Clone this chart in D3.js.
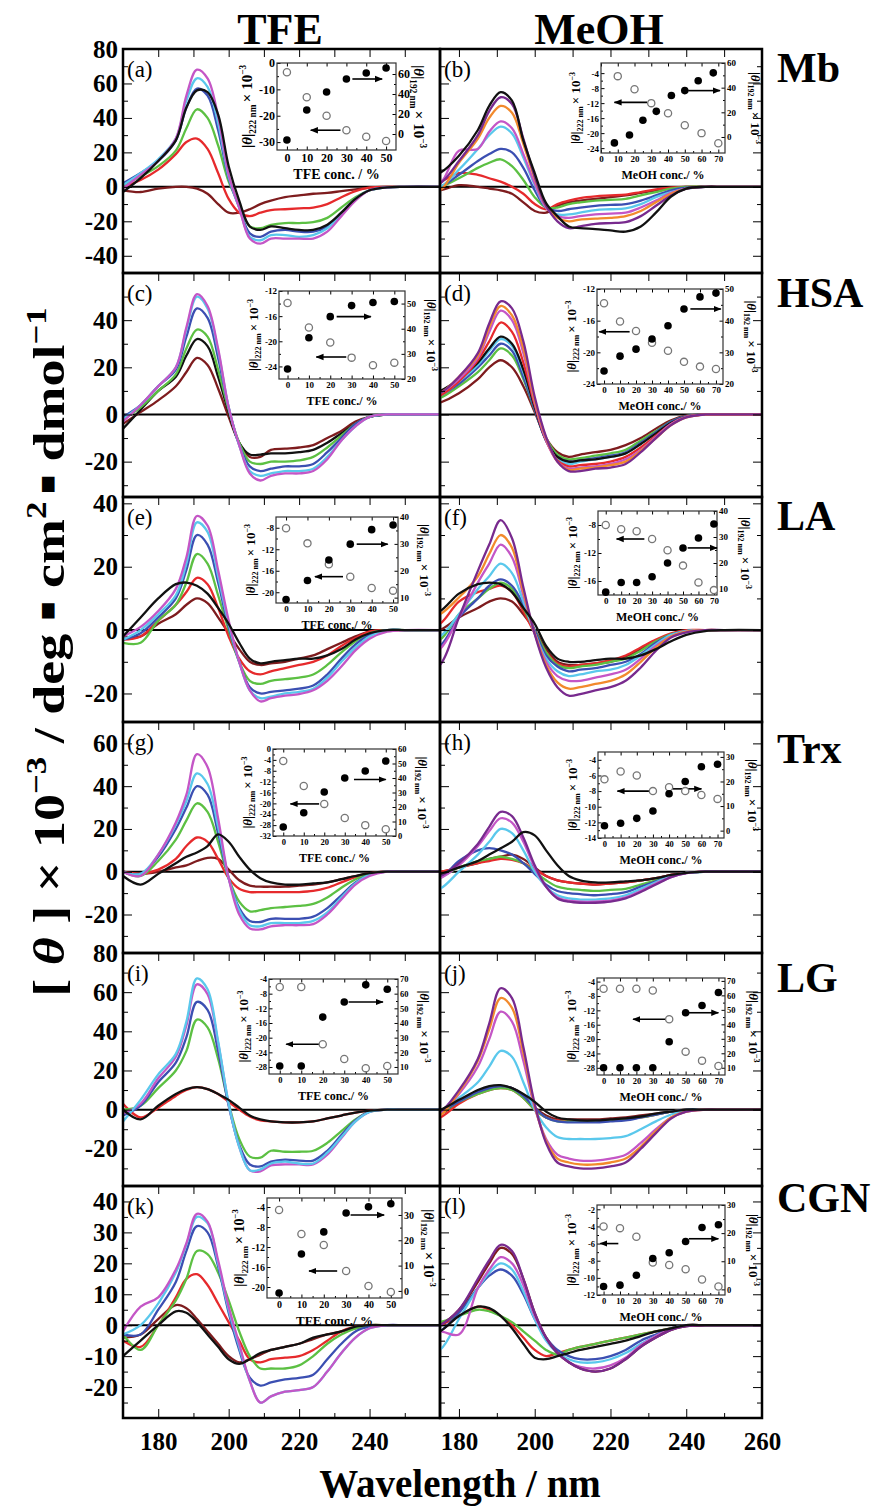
<!DOCTYPE html>
<html>
<head>
<meta charset="utf-8">
<script src="https://cdn.jsdelivr.net/npm/d3@7"></script>
<style>
  body { margin: 0; background: #fff; }
  svg { display: block; }
  text { font-family: "Liberation Serif", "Times New Roman", serif; }
</style>
</head>
<body>
<svg id="chart" width="878" height="1509"></svg>
<script>
// wavelength grid (nm) shared by every spectrum below
const WL = [170,175,180,185,188,191,194,197,200,203,206,209,212,216,220,224,228,232,236,240,245,250,260];

// (a) Mb / TFE
const curvesA = [
  ['maroon',  [-2,-3,-1,0,0,-1,-4,-10,-15,-15,-13,-10,-8,-6,-5,-4,-3.5,-2.5,-1.5,-0.5,0,0,0]],
  ['red',     [0,4,10,19,26,28,22,8,-7,-15,-17,-15,-13.5,-13,-12.5,-12,-10,-6,-2.5,-0.5,0,0,0]],
  ['green',   [1,6,12,21,34,45,40,24,3,-10,-23,-24,-22,-21,-21,-20.5,-18,-12,-6,-2,-0.3,0,0]],
  ['blue',    [2,8,15,27,46,57,53,33,5,-12,-27,-29,-26,-25,-26,-26,-23,-15,-7,-2,-0.3,0,0]],
  ['cyan',    [1,8,16,28,50,63,58,37,6,-12,-29,-31,-28,-28,-29,-28,-24,-16,-7,-2,-0.3,0,0]],
  ['magenta', [-1,7,15,28,53,68,63,41,7,-12,-30,-33,-30,-30,-30,-30,-26,-17,-8,-2,-0.3,0,0]],
  ['black',   [-3,5,15,27,46,56,55,42,12,-8,-23,-25,-23,-24,-25,-25,-22,-15,-7,-2,-0.3,0,0]]
];
// (b) Mb / MeOH
const curvesB = [
  ['maroon',  [-2,-2,1,0,-1,-2,-4,-9,-14,-15,-11,-9,-8,-7,-6,-5,-3.5,-2,-0.5,0,0,0,0]],
  ['red',     [2,3,8,7,5,3,0,-4,-10,-13,-10,-8,-6.5,-5.5,-5,-4.5,-3,-1.5,-0.5,0,0,0,0]],
  ['green',   [0,0,5,11,14,16,12,4,-6,-12,-12,-10,-9,-8,-7.5,-7,-5,-3,-1,0,0,0,0]],
  ['blue',    [0,0,7,15,19,22,20,11,-2,-12,-14,-13,-12,-11,-10.5,-10,-8,-5,-2,-0.5,0,0,0]],
  ['cyan',    [0,0,10,22,30,35,31,17,1,-12,-16,-16,-15,-13.5,-13,-12.5,-10,-6,-3,-1,0,0,0]],
  ['magenta', [0,2,21,22,32,38,34,19,2,-12,-17,-18,-17,-16,-15.5,-15,-12,-8,-3.5,-1,0,0,0]],
  ['orange',  [-3,-2,14,28,40,47,43,25,5,-11,-18,-20,-19,-18.5,-18,-17,-14,-9,-4,-1,0,0,0]],
  ['purple',  [0,2,15,30,44,52,48,28,6,-11,-20,-24,-23,-21.5,-21,-20.5,-17,-11,-5,-1,0,0,0]],
  ['black',   [5,8,18,33,47,55,50,27,8,-9.5,-17,-23,-24,-24.5,-25.3,-26,-23,-15,-5.6,-1,0,0,0]]
];
// (c) HSA / TFE
const curvesC = [
  ['maroon',  [-4,1,6,12,18,24,21,11,-1,-12,-18,-18,-15,-14.5,-14,-13,-10,-7,-3,-1,0,0,0]],
  ['black',   [-6,2,10,16,25,32,29,16,1,-12,-17,-17,-16.5,-16.5,-16,-15,-12,-8,-4,-1,0,0,0]],
  ['green',   [-2,3,10,17,28,36,33,19,2,-12,-20,-21,-20,-20,-19.5,-18,-14,-9,-4,-1,0,0,0]],
  ['blue',    [-1,4,12,19,33,45,41,24,3,-13,-22,-24,-23,-22,-22,-21,-16,-10,-4,-1,0,0,0]],
  ['cyan',    [-2,4,12,20,36,50,45,27,3,-13,-24,-26,-25,-24,-24,-23,-18,-11,-5,-1,0,0,0]],
  ['magenta', [-3,4,12,20,37,51,46,28,3,-13,-25,-28,-26,-25,-25,-24,-19,-11,-5,-1,0,0,0]]
];
// (d) HSA / MeOH
const curvesD = [
  ['maroon',  [3,5,9,15,20,23,20,12,1,-10,-16,-18,-17,-16,-15,-13,-10,-6,-2.5,-0.5,0,0,0]],
  ['green',   [5,7,12,18,23,28,25,15,2,-10,-17,-19,-18.5,-17.5,-16.5,-15,-11,-7,-3,-0.7,0,0,0]],
  ['blue',    [5,8,13,20,25,30,27,16,2,-11,-18,-20,-19.5,-18.5,-17.5,-16,-12,-7.5,-3,-0.7,0,0,0]],
  ['cyan',    [6,8,14,21,27,32,29,18,3,-11,-18.5,-21,-20,-19,-18,-16.5,-12.5,-8,-3.5,-1,0,0,0]],
  ['black',   [8,10,15,22,28,33,30,19,3,-11,-18,-20,-19.5,-19,-18,-16.5,-12.5,-8,-3.5,-1,0,0,0]],
  ['red',     [6,8,14,23,31,39,35,22,4,-11,-19.5,-22,-21.5,-21,-20,-18,-14,-9,-4,-1,0,0,0]],
  ['magenta', [6,9,15,24,35,44,40,26,5,-11,-20,-23,-22.5,-22,-21,-19,-15,-9.5,-4,-1,0,0,0]],
  ['orange',  [7,9,16,25,37,46,42,28,6,-10,-20,-23.5,-23,-22.5,-21.5,-20,-15.5,-10,-4.5,-1.2,0,0,0]],
  ['purple',  [8,9,16,26,38.6,48,45,31,7.5,-9.5,-20,-24,-24,-23,-22.5,-21,-16,-10,-4.5,-1.2,0,0,0]]
];
// (e) LA / TFE
const curvesE = [
  ['maroon',  [-2,-2,2,5,8,10,8.5,4,-1,-6,-10,-11,-10.5,-10,-9,-8,-6,-4,-2,-0.5,0,0,0]],
  ['red',     [-3,-2,3,8,12,16.5,14.5,7,-2,-9,-13,-14,-13,-12,-11,-10,-8,-5,-2.5,-0.5,0,0,0]],
  ['green',   [-4,-4,3,8,15,24,21,11,0,-10,-16,-17,-16,-15.5,-15,-14,-11,-7,-3.5,-1,0,0,0]],
  ['blue',    [-3,-1,4,10,19,30,27,15,1,-10,-18,-20,-19.5,-19,-18.5,-17.5,-14,-9,-4.5,-1.5,0,0,0]],
  ['cyan',    [-3,0,5,11,21,34,31,17,2,-10,-19,-21.5,-21,-20,-19.5,-18.5,-15,-10,-5.5,-2,0,0,0]],
  ['magenta', [-2,1,6,13,23,36,33,19,3,-10,-19,-22.5,-21.5,-20.7,-20.2,-19,-16,-11.5,-6.4,-2.7,-0.5,0,0]],
  ['black',   [-2,4,10,14.5,15,14,11.5,7,2,-4,-9,-10.5,-10,-9.5,-9,-9,-8,-6,-3,-1,0,0,0]]
];
// (f) LA / MeOH
const curvesF = [
  ['maroon',  [-1,0,4,7,9,10,9,5,0,-6,-10,-11,-11,-10.5,-10,-8.5,-6,-3.5,-1.3,-0.3,0,0,0]],
  ['red',     [0,2,9,12,13,14,12,6,-1,-7,-10.5,-11.5,-11,-10.5,-9.5,-8,-5.5,-3,-1,0,0,0,0]],
  ['green',   [-4,-3,5,10,13,15,13,7,0,-7,-11,-12,-11.5,-11,-10,-9,-6.5,-3.5,-1.3,-0.3,0,0,0]],
  ['blue',    [-7,-5,4,10,14,16,14,8,0,-8,-11.5,-13,-12.5,-12,-11,-10,-7.5,-4,-1.5,-0.3,0,0,0]],
  ['cyan',    [-4,-2,5,13,17,21,18,9,-1,-9,-13,-14.5,-14,-13,-12.5,-11,-8,-4.5,-1.5,-0.3,0,0,0]],
  ['magenta', [-9,-6,4,15,21,27,23,11,-1,-10,-14.5,-16,-16,-15,-14,-12.5,-9,-5,-2,-0.5,0,0,0]],
  ['orange',  [3,5,10.3,17,24,30,26,12,-1,-11,-16.5,-18.5,-18,-17,-16,-14,-10,-5.5,-2,-0.5,0,0,0]],
  ['purple',  [-14,-11,4,18.7,27,34.7,29,13.5,-1.3,-11.8,-18,-20.7,-20.2,-19,-18,-16,-11.8,-6.5,-2.3,-0.7,0,0,0]],
  ['black',   [4,6,11.5,14.5,15,14.5,12,7,2,-5,-9,-10,-10,-9.5,-9,-9,-8,-6,-3.5,-1.5,-0.3,0,0]]
];
// (g) Trx / TFE
const curvesG = [
  ['maroon',  [0,-1,0,2,3,5,6.5,6,1,-4,-6.5,-7,-7,-7,-6.5,-6,-5,-3.5,-2,-0.7,0,0,0]],
  ['red',     [0,-1,1,6,12,16,14,6,-3,-8,-9.5,-9.5,-9.5,-9.5,-9.5,-9,-7.5,-5,-2.5,-0.8,0,0,0]],
  ['green',   [0,-2,5,15,24,32,28,14,-3,-14,-18.5,-18,-17,-16.5,-16,-15,-12,-7.5,-3.5,-1,0,0,0]],
  ['blue',    [0,-1,7,20,30,40,36,18,-3,-17,-23,-23.5,-22,-22,-22,-21,-17,-11,-5,-1.5,0,0,0]],
  ['cyan',    [0,-1,8,22,33,46,41,21,-3,-18,-25,-25.5,-24,-24,-24,-23,-19,-12,-5.5,-1.5,0,0,0]],
  ['magenta', [0,-2,8,23,36,55,49,25,-3,-20,-26.5,-27,-25.5,-25,-25,-24.5,-20,-13,-6,-2,0,0,0]],
  ['black',   [-2,-6,-1,4,7,9,12,17.5,14,7,1,-3,-5,-6,-6,-5.5,-5,-3.5,-2,-0.7,0,0,0]]
];
// (h) Trx / MeOH
const curvesH = [
  ['maroon',  [0,0,2,4,6,7,8,6,2,-2,-4,-5,-5.5,-6,-5.5,-5,-4,-3,-1.5,-0.5,0,0,0]],
  ['red',     [0,0,2,4,5,6,5.5,4,1,-2,-4,-5,-5.5,-6,-5.5,-5,-4,-3,-1.5,-0.5,0,0,0]],
  ['green',   [0,-2,2,5,6,7,6,4,0,-4,-7,-8,-8.5,-9,-8.5,-8,-6,-4,-2,-0.5,0,0,0]],
  ['blue',    [-4,-3,5,10,11,10,8,4,-1,-6,-9,-10,-10.5,-11,-10.5,-9.5,-7,-4.5,-2,-0.5,0,0,0]],
  ['cyan',    [-10,-8,0,8,14,20,18,10,0,-7,-11,-12.5,-13,-13,-12.5,-11,-8,-5,-2,-0.5,0,0,0]],
  ['magenta', [-4,-3,3,12,19,25,23,14,2,-7,-12,-13.5,-14,-14,-13.5,-12,-9,-5.5,-2.5,-0.7,0,0,0]],
  ['purple',  [-3,-2,4,13,21,28,26,16,3,-7,-12.5,-14,-14.5,-14.5,-14,-12.5,-9.5,-6,-2.5,-0.7,0,0,0]],
  ['black',   [-2,-1,2,5,8,11,14,18.5,17,10,3,-2,-4,-5,-5,-4.5,-4,-3,-1.5,-0.5,0,0,0]]
];
// (i) LG / TFE
const curvesI = [
  ['red',     [3,-4,1,7,10,11.5,10.5,8,4,0,-3.5,-5.5,-6,-6.5,-6.5,-6,-4.5,-3,-1.5,-0.5,0,0,0]],
  ['green',   [0,2,11,20,30,46,42,26,3,-15,-24,-24.5,-21,-21.5,-21.5,-21,-17,-11,-5,-1,0,0,0]],
  ['blue',    [-3,2,14,24,37,55,51,30,2,-18,-28,-29,-26.5,-25.5,-26,-26,-21,-13,-5.5,-1,0,0,0]],
  ['magenta', [-2,3,16,27,43,64,59,34,3,-19,-31,-31.5,-28.5,-28,-28,-28,-23,-14.5,-6,-1.2,0,0,0]],
  ['cyan',    [-6,5,18,28.5,45,67,61.5,35,3,-19,-31,-30.5,-27.5,-26.6,-27.5,-27.5,-22,-14,-6,-1.2,0,0,0]],
  ['black',   [0,-5,2,8,10.5,11.5,10.5,8,5,1,-3,-5,-6,-6.5,-6.5,-6,-4.5,-3,-1.5,-0.5,0,0,0]]
];
// (j) LG / MeOH
const curvesJ = [
  ['maroon',  [0,-2,4,9,11,12,11,7,1,-3,-5,-5,-5,-5,-4.5,-4,-3,-2,-1,0,0,0,0]],
  ['red',     [-6,-4,3,8,10,11,10,6,0,-4,-5.5,-6,-6,-6,-5.5,-5,-4,-2.5,-1,0,0,0,0]],
  ['green',   [-4,-2,4,8,10,11,10,6,0,-4,-6,-6,-6,-6,-5.5,-5,-4,-2.5,-1,0,0,0,0]],
  ['blue',    [-3,-1,4,9,11,12,11,7,1,-4,-6,-6.5,-6.5,-6.5,-6,-5.5,-4,-2.5,-1,0,0,0,0]],
  ['cyan',    [-3,-1,6,14,22,30,27,14,0,-9,-14,-15,-15,-15,-14.5,-13.5,-10,-6,-2.5,-0.5,0,0,0]],
  ['magenta', [-4,-2,8,22,36,50,45,25,1,-15,-23,-25,-26,-26,-25,-23,-17,-10,-4,-1,0,0,0]],
  ['orange',  [-5,-3,9,25,41,57,52,29,2,-16,-25,-27,-28,-28,-27,-25,-19,-11,-4,-1,0,0,0]],
  ['purple',  [-2,-1,10,26,44,62,57,32,3,-17,-27,-29,-30,-30,-29,-27,-20,-12,-4.5,-1,0,0,0]],
  ['black',   [-1,0,5,10,12,12.5,11,8,4,-1,-4,-5,-5.5,-5.5,-5,-4.5,-3.5,-2,-1,0,0,0,0]]
];
// (k) CGN / TFE
const curvesK = [
  ['maroon',  [-4,-3,2,6.5,5.5,2,-2,-6,-10,-12,-11,-9.5,-8,-7,-6,-4.5,-3,-2,-1,0,0,0,0]],
  ['red',     [-5,-7,0,9,15,16.5,13,7,1,-5,-11,-12,-11,-10.5,-10,-8,-5,-2,-0.5,0,0,0,0]],
  ['green',   [-3,-8,0,8,15,24,23,17,8,-2,-10,-14,-14,-14,-13,-10,-6,-3,-1,0,0,0,0]],
  ['blue',    [-3,-3,5,14,24,32,30,19,4,-8,-17,-19.5,-18.5,-17.5,-17,-16,-11,-6,-2,-0.5,0,0,0]],
  ['cyan',    [-3,0,7,17,26,35,33,20,5,-7,-18,-25,-23,-21.5,-21,-20,-15,-9,-4,-1,0,0,0]],
  ['magenta', [-2,6,9,18,26.5,36,33.5,21,6,-6,-18,-25,-23,-21.5,-21,-20,-15,-9,-4,-1,0,0,0]],
  ['black',   [-10,-5,0,4.5,4,1,-3,-7,-11,-12.5,-11,-9,-8,-7,-6,-4,-3,-2,-0.5,0,0,0,0]]
];
// (l) CGN / MeOH
const curvesL = [
  ['red',     [-2,0,3,6,5,3,0,-4,-8,-10,-9,-8,-7,-6,-5,-4,-3,-2,-1,0,0,0,0]],
  ['green',   [0,1,3,5,4.5,3,1,-2,-5,-8,-9.5,-8,-7,-6,-5,-4,-3,-2,-1,0,0,0,0]],
  ['blue',    [-4,-2,4,12,16,18,16,10,2,-4,-8,-10,-11,-11,-10,-8,-5,-3,-1,0,0,0,0]],
  ['cyan',    [-10,-8,2,12,17,20,18,11,2,-5,-9,-11,-12,-12,-11,-9,-6,-3.5,-1.2,-0.3,0,0,0]],
  ['magenta', [-3,-2,-3,12,18,22,20,13,3,-4,-9,-12,-13.5,-14,-13,-10.5,-6.5,-3.5,-1.2,-0.3,0,0,0]],
  ['maroon',  [-2,0,5,14,20,25,23,15,4,-4,-9,-12,-14,-15,-14,-11,-7,-4,-1.5,-0.3,0,0,0]],
  ['purple',  [-2,0,5,15,21,26,24,15,4,-4,-9,-12,-14,-15,-14,-11,-7,-4,-1.5,-0.3,0,0,0]],
  ['black',   [-4,-2,3,6,5.5,3,-1,-6,-10.5,-11,-10,-9,-8,-7,-6,-5,-3.5,-2,-1,0,0,0,0]]
];

// insets: [θ]222 (open, left axis) and [θ]192 (filled, right axis) vs solvent %
const insetA = {c222:[0,10,20,30,40,50], t222:[-3.5,-13,-20,-25.5,-28,-29.6], c192:[0,10,20,30,40,50], t192:[-6,24,42,55,61,66]};
const insetB = {c222:[10,20,30,40,50,60,70], t222:[-4.8,-8.3,-12,-14.7,-17.9,-20,-22.7], c192:[8,17,25,33,42,50,58,67], t192:[-4.8,1.6,13.6,20.8,33.6,37.6,45.6,52]};
const insetC = {c222:[0,10,20,30,40,50], t222:[-13.9,-17.8,-20.2,-22.6,-23.8,-23.4], c192:[0,10,20,30,40,50], t192:[24,36.4,44.8,49.2,50.4,50.8]};
const insetD = {c222:[0,10,20,30,40,50,60,70], t222:[-13.8,-16.1,-17.3,-18.8,-19.8,-21.2,-21.8,-22.1], c192:[0,10,20,30,40,50,60,70], t192:[24.1,28.8,31,34.2,38.4,43.7,47.5,48.7]};
const insetE = {c222:[0,10,20,30,40,50], t222:[-8.1,-10.9,-14.8,-17.1,-19.2,-19.7], c192:[0,10,20,30,40,50], t192:[9.3,16.4,24,29.9,35.3,37]};
const insetF = {c222:[0,10,20,30,40,50,60,70], t222:[-8,-8.6,-8.9,-10,-11.6,-13.8,-16.2,-17.3], c192:[0,10,20,30,40,50,60,70], t192:[8.8,12.5,12.5,14.7,20,25.8,29.6,35]};
const insetG = {c222:[0,10,20,30,40,50], t222:[-4.4,-13.6,-20.2,-25.4,-28,-29.5], c192:[0,10,20,30,40,50], t192:[6.2,16,30.3,40,44.8,51.7]};
const insetH = {c222:[0,10,20,30,40,50,60,70], t222:[-6.5,-5.5,-6,-8,-7.5,-8,-8.5,-9], c192:[0,10,20,30,40,50,60,70], t192:[2,3,5,8,15,20,26,27]};
const insetI = {c222:[0,10,20,30,40,50], t222:[-6.2,-6.2,-21.8,-25.8,-28.3,-27.7], c192:[0,10,20,30,40,50], t192:[10.7,10.7,44,54.3,66,63]};
const insetJ = {c222:[0,10,20,30,40,50,60,70], t222:[-6,-6,-6,-6.5,-14.5,-23.5,-26,-27.5], c192:[0,10,20,30,40,50,60,70], t192:[10,10,10,10,28,48,53,62]};
const insetK = {c222:[0,10,20,30,40,50], t222:[-4.6,-9.4,-11.6,-16.8,-19.8,-21], c192:[0,10,20,30,40,50], t192:[-0.8,14.6,23.3,30.8,33.2,34.4]};
const insetL = {c222:[0,10,20,30,40,50,60,70], t222:[-4,-4.2,-5.2,-8.2,-8.5,-9,-10.2,-11], c192:[0,10,20,30,40,50,60,70], t192:[1,1.5,5,11,13,17,22,23]};

const COLORS = {
  maroon: '#7e1c1e', red: '#e62a2c', green: '#5cc043', blue: '#3b4fb2',
  cyan: '#5ac8ec', magenta: '#c456c6', orange: '#f28a2c', purple: '#782a8e', black: '#111'
};

const ROWS = [
  {top: 49,   bottom: 273,  dom: [-50, 80], major: [-40,-20,0,20,40,60,80], minor: 10, name: 'Mb',  nameY: 82},
  {top: 273,  bottom: 497,  dom: [-35, 60], major: [-20,0,20,40],           minor: 10, name: 'HSA', nameY: 307},
  {top: 497,  bottom: 722,  dom: [-29, 42], major: [-20,0,20,40],           minor: 10, name: 'LA',  nameY: 530},
  {top: 722,  bottom: 953,  dom: [-38, 70], major: [-20,0,20,40,60],        minor: 10, name: 'Trx', nameY: 763},
  {top: 953,  bottom: 1186, dom: [-39, 80], major: [-20,0,20,40,60,80],     minor: 10, name: 'LG',  nameY: 992},
  {top: 1186, bottom: 1418, dom: [-30, 45], major: [-20,-10,0,10,20,30,40], minor: 5,  name: 'CGN', nameY: 1212}
];
const COLS = [
  {x0: 123, x1: 440, dom: [170, 260], labels: [180,200,220,240]},
  {x0: 440, x1: 762, dom: [175, 260], labels: [180,200,220,240,260]}
];

const PANELS = [
  {id:'a', row:0, col:0, curves:curvesA, inset:insetA, box:{x0:277,x1:396,y0:63,y1:150, xd:[-5,55], ld:[-33,0], rd:[-16,71], lt:[0,-10,-20,-30], rt:[0,20,40,60], fs:12, tfs:15, lOff:25, rOff:18, solvent:'TFE conc. / %',
    arrows:[[27,12,'L',-25.5],[33,48,'R',55]]}},
  {id:'b', row:0, col:1, curves:curvesB, inset:insetB, box:{x0:601,x1:725,y0:63,y1:153, xd:[0,74], ld:[-25.3,-1.3], rd:[-13,60], lt:[-4,-8,-12,-16,-20,-24], rt:[0,20,40,60], fs:9, tfs:13, lOff:21, rOff:26, solvent:'MeOH conc./ %',
    arrows:[[27.5,8,'L',-11.8],[52,71,'R',37.6]]}},
  {id:'c', row:1, col:0, curves:curvesC, inset:insetC, box:{x0:279,x1:405,y0:291,y1:379, xd:[-4,55], ld:[-26,-12], rd:[20,55], lt:[-12,-16,-20,-24], rt:[20,30,40,50], fs:9, tfs:13, lOff:21, rOff:22, solvent:'TFE conc./ %',
    arrows:[[27.5,13.5,'L',-22.5],[23,39,'R',44.8]]}},
  {id:'d', row:1, col:1, curves:curvesD, inset:insetD, box:{x0:597,x1:723,y0:289,y1:384, xd:[-4.4,74.4], ld:[-24,-12], rd:[20,50], lt:[-12,-16,-20,-24], rt:[20,30,40,50], fs:9, tfs:13, lOff:21, rOff:24, solvent:'MeOH conc./ %',
    arrows:[[16,-3,'L',-17.4],[54,73,'R',43.7]]}},
  {id:'e', row:2, col:0, curves:curvesE, inset:insetE, box:{x0:276,x1:398,y0:517,y1:603, xd:[-4.7,52.3], ld:[-22,-6], rd:[8,40], lt:[-8,-12,-16,-20], rt:[10,20,30,40], fs:9, tfs:13, lOff:21, rOff:22, solvent:'TFE conc./ %',
    arrows:[[26.6,13.5,'L',-17.1],[33,47.5,'R',29.9]]}},
  {id:'f', row:2, col:1, curves:curvesF, inset:insetF, box:{x0:598,x1:717,y0:511,y1:595, xd:[-5,72], ld:[-18,-6], rd:[7.7,40], lt:[-8,-12,-16], rt:[10,20,30,40], fs:9, tfs:13, lOff:21, rOff:24, solvent:'MeOH conc./ %',
    arrows:[[25,7,'L',-10],[53,72,'R',25.8]]}},
  {id:'g', row:3, col:0, curves:curvesG, inset:insetG, box:{x0:273,x1:396,y0:749,y1:836, xd:[-5,55], ld:[-32,0], rd:[0,60], lt:[0,-4,-8,-12,-16,-20,-24,-28,-32], rt:[0,10,20,30,40,50,60], fs:8.5, tfs:13, lOff:21, rOff:22, solvent:'TFE conc./ %',
    arrows:[[17.5,3.5,'L',-20.2],[34.5,50,'R',39]]}},
  {id:'h', row:3, col:1, curves:curvesH, inset:insetH, box:{x0:598,x1:724,y0:752,y1:838, xd:[-4,74], ld:[-14,-3], rd:[-3,32], lt:[-4,-6,-8,-10,-12,-14], rt:[0,10,20,30], fs:8.5, tfs:13, lOff:21, rOff:24, solvent:'MeOH conc./ %',
    arrows:[[28,8,'L',-8],[42,60,'R',17]]}},
  {id:'i', row:4, col:0, curves:curvesI, inset:insetI, box:{x0:269,x1:398,y0:979,y1:1074, xd:[-5,55], ld:[-29.9,-4], rd:[5.2,70], lt:[-4,-8,-12,-16,-20,-24,-28], rt:[10,20,30,40,50,60,70], fs:8.5, tfs:13, lOff:21, rOff:22, solvent:'TFE conc./ %',
    arrows:[[18.5,3,'L',-21.8],[32,48,'R',54.3]]}},
  {id:'j', row:4, col:1, curves:curvesJ, inset:insetJ, box:{x0:597,x1:725,y0:978,y1:1075, xd:[-4,74], ld:[-30,-3], rd:[5,72], lt:[-4,-8,-12,-16,-20,-24,-28], rt:[10,20,30,40,50,60,70], fs:8.5, tfs:13, lOff:21, rOff:24, solvent:'MeOH conc./ %',
    arrows:[[38,18,'L',-14.5],[52,70,'R',48]]}},
  {id:'k', row:5, col:0, curves:curvesK, inset:insetK, box:{x0:267,x1:402,y0:1198,y1:1298, xd:[-5.4,55], ld:[-22.2,-2.2], rd:[-2.8,36.7], lt:[-4,-8,-12,-16,-20], rt:[0,10,20,30], fs:10, tfs:14, lOff:23, rOff:22, solvent:'TFE conc./ %',
    arrows:[[26,13.4,'L',-16.8],[32,47,'R',30]]}},
  {id:'l', row:5, col:1, curves:curvesL, inset:insetL, box:{x0:597,x1:725,y0:1205,y1:1295, xd:[-4,74], ld:[-12,-1.5], rd:[-2,30], lt:[-2,-4,-6,-8,-10,-12], rt:[0,10,20,30], fs:8.5, tfs:13, lOff:21, rOff:24, solvent:'MeOH conc./ %',
    arrows:[[9,-2,'L',-6],[52,70,'R',18]]}}
];

const svg = d3.select('#chart');
const FONT = '"Liberation Serif", "Times New Roman", serif';

svg.append('defs').append('marker')
  .attr('id', 'arrowHead')
  .attr('viewBox', '0 0 10 10')
  .attr('refX', 9).attr('refY', 5)
  .attr('markerWidth', 5).attr('markerHeight', 5)
  .attr('orient', 'auto')
  .append('path').attr('d', 'M0,1 L10,5 L0,9 Z').attr('fill', '#000');

function styleAxis(g, size) {
  g.select('.domain').remove();
  g.attr('font-family', FONT).attr('font-size', size);
  g.selectAll('text').attr('font-weight', 'bold').attr('fill', '#000');
  g.selectAll('line').attr('stroke', '#000');
}

function minorTicks(dom, step, majors) {
  return d3.range(Math.ceil(dom[0] / step) * step, dom[1] + 0.001, step)
    .filter(v => majors.indexOf(v) < 0);
}

function drawPanel(p) {
  const row = ROWS[p.row], col = COLS[p.col];
  const sx = d3.scaleLinear().domain(col.dom).range([col.x0, col.x1]);
  const sy = d3.scaleLinear().domain(row.dom).range([row.bottom, row.top]);
  const g = svg.append('g').attr('class', 'panel-' + p.id);

  g.append('clipPath').attr('id', 'clip-' + p.id)
    .append('rect')
    .attr('x', col.x0).attr('y', row.top)
    .attr('width', col.x1 - col.x0).attr('height', row.bottom - row.top);

  // zero line
  g.append('line')
    .attr('x1', col.x0).attr('x2', col.x1)
    .attr('y1', sy(0)).attr('y2', sy(0))
    .attr('stroke', '#000').attr('stroke-width', 2);

  const line = d3.line()
    .x((d, i) => sx(WL[i]))
    .y(d => sy(d))
    .curve(d3.curveCatmullRom.alpha(0.5));

  g.append('g').attr('clip-path', 'url(#clip-' + p.id + ')')
    .selectAll('path')
    .data(p.curves)
    .join('path')
    .attr('d', d => line(d[1]))
    .attr('fill', 'none')
    .attr('stroke', d => COLORS[d[0]])
    .attr('stroke-width', 2.3)
    .attr('stroke-linejoin', 'round');

  // y ticks (left side)
  const yMinor = minorTicks(row.dom, row.minor, row.major);
  const yAx = g.append('g').attr('transform', 'translate(' + col.x0 + ',0)')
    .call(d3.axisLeft(sy).tickValues(row.major).tickSize(-9).tickPadding(5)
      .tickFormat(d => p.col === 0 ? String(d) : ''));
  styleAxis(yAx, 25);
  const yAxMinor = g.append('g').attr('transform', 'translate(' + col.x0 + ',0)')
    .call(d3.axisLeft(sy).tickValues(yMinor).tickSize(-5).tickFormat(''));
  styleAxis(yAxMinor, 10);

  if (p.col === 1) {
    const yR = g.append('g').attr('transform', 'translate(' + col.x1 + ',0)')
      .call(d3.axisRight(sy).tickValues(row.major).tickSize(-9).tickFormat(''));
    styleAxis(yR, 10);
    const yRm = g.append('g').attr('transform', 'translate(' + col.x1 + ',0)')
      .call(d3.axisRight(sy).tickValues(yMinor).tickSize(-5).tickFormat(''));
    styleAxis(yRm, 10);
  }

  // top ticks every 10 nm
  const topTicks = d3.range(180, col.dom[1], 10);
  const xTop = g.append('g').attr('transform', 'translate(0,' + row.top + ')')
    .call(d3.axisTop(sx).tickValues(topTicks).tickSize(-8).tickFormat(''));
  styleAxis(xTop, 10);

  if (p.row === ROWS.length - 1) {
    const xB = g.append('g').attr('transform', 'translate(0,' + row.bottom + ')')
      .call(d3.axisBottom(sx).tickValues(col.labels).tickSize(-9).tickPadding(14)
        .tickFormat(d => String(d)));
    styleAxis(xB, 25);
    const xBm = g.append('g').attr('transform', 'translate(0,' + row.bottom + ')')
      .call(d3.axisBottom(sx).tickValues(d3.range(190, col.dom[1], 20)).tickSize(-5).tickFormat(''));
    styleAxis(xBm, 10);
  }

  // frame
  g.append('rect')
    .attr('x', col.x0).attr('y', row.top)
    .attr('width', col.x1 - col.x0).attr('height', row.bottom - row.top)
    .attr('fill', 'none').attr('stroke', '#000').attr('stroke-width', 2.5);

  g.append('text')
    .attr('x', col.x0 + 4).attr('y', row.top + 28)
    .attr('font-size', 23)
    .text('(' + p.id + ')');

  drawInset(g, p);
}

function drawInset(parent, p) {
  const b = p.box, data = p.inset;
  const sx = d3.scaleLinear().domain(b.xd).range([b.x0, b.x1]);
  const sl = d3.scaleLinear().domain(b.ld).range([b.y1, b.y0]);
  const sr = d3.scaleLinear().domain(b.rd).range([b.y1, b.y0]);
  const xt = d3.range(0, b.xd[1], 10);
  const g = parent.append('g').attr('class', 'inset');

  g.append('rect')
    .attr('x', b.x0).attr('y', b.y0)
    .attr('width', b.x1 - b.x0).attr('height', b.y1 - b.y0)
    .attr('fill', '#fff');

  const lMinor = b.lt.slice(0, -1).map((v, i) => (v + b.lt[i + 1]) / 2);
  const rMinor = b.rt.slice(0, -1).map((v, i) => (v + b.rt[i + 1]) / 2);

  const aL = g.append('g').attr('transform', 'translate(' + b.x0 + ',0)')
    .call(d3.axisLeft(sl).tickValues(b.lt).tickSize(-3.5).tickPadding(2).tickFormat(d => String(d)));
  styleAxis(aL, b.fs);
  styleAxis(g.append('g').attr('transform', 'translate(' + b.x0 + ',0)')
    .call(d3.axisLeft(sl).tickValues(lMinor).tickSize(-2).tickFormat('')), 8);
  const aR = g.append('g').attr('transform', 'translate(' + b.x1 + ',0)')
    .call(d3.axisRight(sr).tickValues(b.rt).tickSize(-3.5).tickPadding(2).tickFormat(d => String(d)));
  styleAxis(aR, b.fs);
  styleAxis(g.append('g').attr('transform', 'translate(' + b.x1 + ',0)')
    .call(d3.axisRight(sr).tickValues(rMinor).tickSize(-2).tickFormat('')), 8);
  const aB = g.append('g').attr('transform', 'translate(0,' + b.y1 + ')')
    .call(d3.axisBottom(sx).tickValues(xt).tickSize(-3.5).tickPadding(3).tickFormat(d => String(d)));
  styleAxis(aB, b.fs);
  styleAxis(g.append('g').attr('transform', 'translate(0,' + b.y1 + ')')
    .call(d3.axisBottom(sx).tickValues(xt.map(v => v + 5).filter(v => v < b.xd[1])).tickSize(-2).tickFormat('')), 8);
  styleAxis(g.append('g').attr('transform', 'translate(0,' + b.y0 + ')')
    .call(d3.axisTop(sx).tickValues(xt).tickSize(-3.5).tickFormat('')), 8);

  g.append('rect')
    .attr('x', b.x0).attr('y', b.y0)
    .attr('width', b.x1 - b.x0).attr('height', b.y1 - b.y0)
    .attr('fill', 'none').attr('stroke', '#333').attr('stroke-width', 1.2);

  // arrows
  g.selectAll('.arr')
    .data(b.arrows)
    .join('line')
    .attr('class', 'arr')
    .attr('x1', d => sx(d[0])).attr('x2', d => sx(d[1]))
    .attr('y1', d => (d[2] === 'L' ? sl : sr)(d[3]))
    .attr('y2', d => (d[2] === 'L' ? sl : sr)(d[3]))
    .attr('stroke', '#000').attr('stroke-width', 1.6)
    .attr('marker-end', 'url(#arrowHead)');

  // open circles: 222 nm on left axis
  g.selectAll('.open')
    .data(data.c222.map((c, i) => [c, data.t222[i]]))
    .join('circle')
    .attr('class', 'open')
    .attr('cx', d => sx(d[0])).attr('cy', d => sl(d[1]))
    .attr('r', 3.6)
    .attr('fill', '#fff').attr('stroke', '#777').attr('stroke-width', 1.3);

  // filled circles: 192 nm on right axis
  g.selectAll('.filled')
    .data(data.c192.map((c, i) => [c, data.t192[i]]))
    .join('circle')
    .attr('class', 'filled')
    .attr('cx', d => sx(d[0])).attr('cy', d => sr(d[1]))
    .attr('r', 3.8)
    .attr('fill', '#000');

  const midY = (b.y0 + b.y1) / 2;
  insetTitle(g, b.x0 - b.lOff, midY, -90, '222 nm', b.tfs);
  insetTitle(g, b.x1 + b.rOff, midY, 90, '192 nm', b.tfs);

  g.append('text')
    .attr('x', (b.x0 + b.x1) / 2).attr('y', b.y1 + b.fs + 17)
    .attr('text-anchor', 'middle')
    .attr('font-size', b.tfs - 1).attr('font-weight', 'bold')
    .text(b.solvent);
}

function insetTitle(g, x, y, angle, sub, size) {
  const t = g.append('text')
    .attr('transform', 'translate(' + x + ',' + y + ') rotate(' + angle + ')')
    .attr('text-anchor', 'middle')
    .attr('font-size', size).attr('font-weight', 'bold');
  t.append('tspan').text('|');
  t.append('tspan').attr('font-style', 'italic').text('θ');
  t.append('tspan').text('|');
  t.append('tspan').attr('font-size', size * 0.62).attr('dy', size * 0.25).text(sub + ' ');
  t.append('tspan').attr('dy', -size * 0.25).text('× 10');
  t.append('tspan').attr('font-size', size * 0.62).attr('dy', -size * 0.4).text('−3');
}

PANELS.forEach(drawPanel);

// column headings and protein names
svg.append('text').attr('x', 280).attr('y', 44).attr('text-anchor', 'middle')
  .attr('font-size', 44).attr('font-weight', 'bold').text('TFE');
svg.append('text').attr('x', 599).attr('y', 44).attr('text-anchor', 'middle')
  .attr('font-size', 44).attr('font-weight', 'bold').text('MeOH');

svg.selectAll('.protein')
  .data(ROWS)
  .join('text')
  .attr('class', 'protein')
  .attr('x', 777).attr('y', d => d.nameY)
  .attr('font-size', 42).attr('font-weight', 'bold')
  .text(d => d.name);

// axis titles (the printed y title is drawn a little stretched along its length)
const yt = svg.append('text')
  .attr('transform', 'translate(64,652) rotate(-90) scale(1.2,1)')
  .attr('text-anchor', 'middle')
  .attr('font-size', 45).attr('font-weight', 'bold');
yt.append('tspan').text('[ ');
yt.append('tspan').attr('font-style', 'italic').text('θ');
yt.append('tspan').text(' ]  × 10');
yt.append('tspan').attr('font-size', 29).attr('dy', -18).text('−3');
yt.append('tspan').attr('dy', 18).text(' / deg ');
yt.append('tspan').attr('font-size', 26).attr('dy', -8).text('■');
yt.append('tspan').attr('dy', 8).text(' cm');
yt.append('tspan').attr('font-size', 29).attr('dy', -18).text('2');
yt.append('tspan').attr('font-size', 26).attr('dy', 10).text(' ■');
yt.append('tspan').attr('dy', 8).text(' dmol');
yt.append('tspan').attr('font-size', 29).attr('dy', -18).text('−1');

svg.append('text').attr('x', 460).attr('y', 1497).attr('text-anchor', 'middle')
  .attr('font-size', 39).attr('font-weight', 'bold').text('Wavelength / nm');
</script>
</body>
</html>
